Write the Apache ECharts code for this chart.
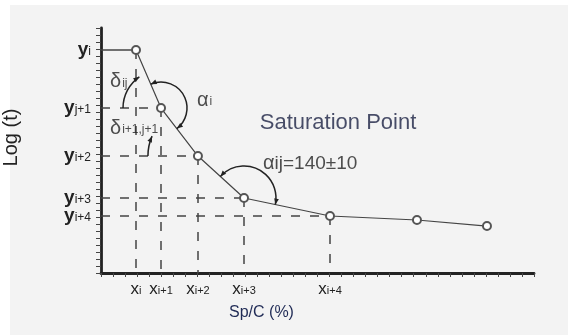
<!DOCTYPE html>
<html><head><meta charset="utf-8">
<script src="https://cdn.jsdelivr.net/npm/echarts@6/dist/echarts.min.js"></script>
<style>html,body{margin:0;padding:0;background:#fff}#c{width:568px;height:335px}</style>
</head><body><div id="c"></div>
<script>
// ---- data ----
const xValues = [2.91, 4.99, 8.06, 11.89, 19.04, 26.27, 32.09];
const yValues = [31.86, 23.57, 16.71, 10.71, 8.14, 7.57, 6.71];
const xTickSubs = ['i', 'i+1', 'i+2', 'i+3', 'i+4'];
const yTickSubs = ['i', 'j+1', 'i+2', 'i+3', 'i+4'];
const xRange = [0, 36];
const yRange = [0, 35];
const annX = [0.75, 0.75, 7.98, 13.2, 13.47];
const annY = [27.3, 20.7, 24.7, 21.4, 15.7];
const annText = [
  '{g|δ}{s|ij}',
  '{g|δ}{s|i+1,j+1}',
  '{g|α}{s|i}',
  '{t|Saturation Point}',
  '{g|α}{m|ij=140±10}'
];
// ---- chart ----
const nGuide = 5;
const guideLines = [];
for (let i = 0; i < nGuide; i++) {
  guideLines.push([{coord: [xRange[0], yValues[i]], lineStyle: {type: i === 0 ? 'solid' : [9, 10]}}, {coord: [xValues[i], yValues[i]]}]);
  guideLines.push([{coord: [xValues[i], yValues[i]]}, {coord: [xValues[i], yRange[0]]}]);
}
const pts = xValues.map((x, i) => [x, yValues[i]]);
const chart = echarts.init(document.getElementById('c'), null, {renderer: 'canvas'});
const FONT = 'Liberation Sans';
function findIdx(arr, v) { let b = 0; for (let i = 0; i < arr.length; i++) if (Math.abs(arr[i] - v) < Math.abs(arr[b] - v)) b = i; return b; }

function arrowHead(c, r, a, sign, col) {
  const px = c[0] + r * Math.cos(a), py = c[1] + r * Math.sin(a);
  const dx = -Math.sin(a) * sign, dy = Math.cos(a) * sign;
  const L = 6, W = 2.4;
  return {type: 'polygon', shape: {points: [[px, py], [px - dx * L + dy * W, py - dy * L - dx * W], [px - dx * L - dy * W, py - dy * L + dx * W]]}, style: {fill: col}};
}
function arcGroup(params, api) {
  const p = pts.map(d => api.coord(d));
  const ang = (a, b) => Math.atan2(b[1] - a[1], b[0] - a[0]);
  const col = '#222';
  const els = [];
  const add = (c, r, a1, a2, headStart, headEnd) => {
    els.push({type: 'arc', shape: {cx: c[0], cy: c[1], r: r, startAngle: a1, endAngle: a2, clockwise: true}, style: {stroke: col, fill: null, lineWidth: 1.5}});
    if (headStart) els.push(arrowHead(c, r, a1, -1, col));
    if (headEnd) els.push(arrowHead(c, r, a2, 1, col));
  };
  // alpha_i around point 2
  add(p[1], 26, ang(p[1], p[0]), ang(p[1], p[2]), true, true);
  // alpha_ij around point 4
  add(p[3], 32, ang(p[3], p[2]), ang(p[3], p[4]), true, true);
  // delta_ij
  add(p[1], 38, Math.PI, Math.PI * 2 + ang(p[1], p[0]) - 0.2, false, true);
  // delta_i+1,j+1
  add(p[2], 50, Math.PI, Math.PI * 1.13, false, true);
  return {type: 'group', children: els};
}

const yLabelRich = {m: {fontFamily: FONT, fontSize: 19, fontWeight: 'bold', color: '#222', lineHeight: 14}, s: {fontFamily: FONT, fontSize: 12, color: '#222', padding: [3, 0, 0, 0], lineHeight: 14}};
const yFmt = v => '{m|y}{s|' + yTickSubs[findIdx(yValues, v)] + '}';
const yEven = yValues.slice(0, nGuide).filter((v, i) => i % 2 === 0);
const yOdd = yValues.slice(0, nGuide).filter((v, i) => i % 2 === 1);

chart.setOption({
  backgroundColor: 'transparent',
  animation: false,
  graphic: [{type: 'rect', left: 10, top: 5, shape: {width: 558, height: 330}, style: {fill: '#f3f3f3'}, z: -10}],
  grid: {left: 101, top: 28, right: 34, bottom: 62, outerBoundsMode: 'none', containLabel: false},
  xAxis: {
    type: 'value', min: xRange[0], max: xRange[1], interval: 1,
    name: 'Sp/C (%)', nameLocation: 'middle', nameGap: 32,
    nameTextStyle: {fontFamily: FONT, fontSize: 16, color: '#1f2a55', padding: [0, 112, 0, 0]},
    axisLine: {lineStyle: {color: '#222', width: 2.8}},
    axisTick: {length: 4, lineStyle: {color: '#444', width: 1}},
    splitLine: {show: false},
    axisLabel: {
      customValues: xValues.slice(0, nGuide), margin: 9, hideOverlap: false, showMinLabel: true, showMaxLabel: true,
      formatter: v => '{m|x}{s|' + xTickSubs[findIdx(xValues, v)] + '}',
      rich: {m: {fontFamily: FONT, fontSize: 17, color: '#222', lineHeight: 14}, s: {fontFamily: FONT, fontSize: 11, color: '#222', padding: [4, 0, 0, 0], lineHeight: 14}}
    }
  },
  yAxis: [{
    type: 'value', min: yRange[0], max: yRange[1], interval: 1, position: 'left', offset: 0,
    name: 'Log (t)', nameLocation: 'middle', nameGap: 80, nameRotate: 90,
    nameTextStyle: {fontFamily: FONT, fontSize: 20, color: '#222', padding: [0, 0, 0, 26]},
    axisLine: {lineStyle: {color: '#222', width: 2.8}},
    axisTick: {length: 5, lineStyle: {color: '#444', width: 1}},
    splitLine: {show: false},
    axisLabel: {customValues: yEven.slice().sort((a, b) => a - b), margin: 10, hideOverlap: false, showMinLabel: true, showMaxLabel: true, formatter: yFmt, rich: yLabelRich}
  }, {
    type: 'value', min: yRange[0], max: yRange[1], interval: 1, position: 'left', offset: 0,
    axisLine: {show: false}, axisTick: {show: false}, splitLine: {show: false},
    axisLabel: {customValues: yOdd.slice().sort((a, b) => a - b), margin: 10, hideOverlap: false, showMinLabel: true, showMaxLabel: true, formatter: yFmt, rich: yLabelRich}
  }],
  series: [
    {
      type: 'line', data: pts, symbol: 'emptyCircle', symbolSize: 8,
      lineStyle: {color: '#444', width: 1.2}, itemStyle: {color: '#555', borderWidth: 1.2},
      z: 5,
      markLine: {silent: true, symbol: 'none', label: {show: false},
        lineStyle: {color: '#444', width: 1.5, type: [9, 10]}, data: guideLines}
    },
    {type: 'custom', coordinateSystem: 'cartesian2d', data: [[0, 0]], renderItem: arcGroup, silent: true, z: 6},
    {
      type: 'scatter', data: annX.map((x, i) => [x, annY[i]]), symbolSize: 0, silent: true, z: 7,
      label: {show: true, position: 'right', distance: 0, formatter: p => annText[p.dataIndex],
        rich: {
          g: {fontFamily: FONT, fontSize: 20, color: '#222'},
          s: {fontFamily: FONT, fontSize: 12, color: '#222', padding: [4, 0, 0, 1]},
          m: {fontFamily: FONT, fontSize: 19, color: '#222', padding: [2, 0, 0, 0]},
          t: {fontFamily: FONT, fontSize: 22, color: '#1c2244'}
        }}
    }
  ]
});
</script></body></html>
